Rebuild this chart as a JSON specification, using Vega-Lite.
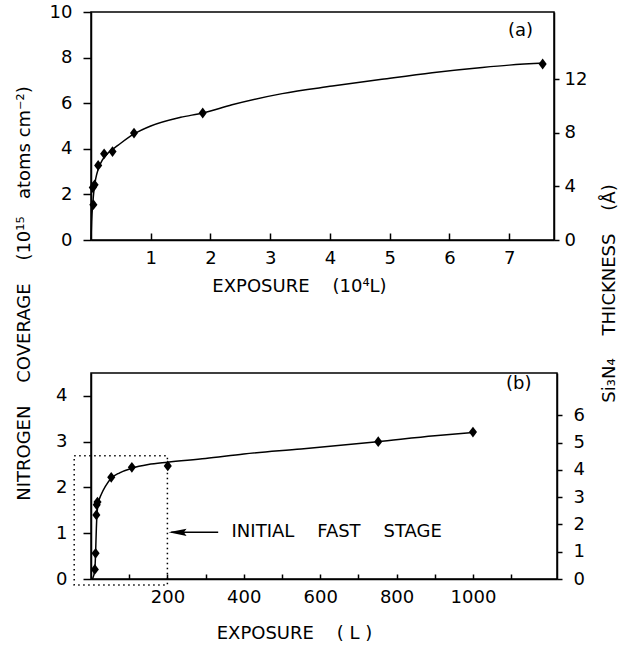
{
  "$schema": "https://vega.github.io/schema/vega-lite/v6.json",
  "padding": {"left": 14, "top": 2, "right": 5, "bottom": 5},
  "background": "white",
  "config": {
    "font": "DejaVu Sans",
    "view": {"stroke": "black", "strokeWidth": 1.5},
    "axis": {
      "grid": false, "domainColor": "black", "domainWidth": 1.5,
      "tickColor": "black", "tickWidth": 1.5, "labelColor": "black",
      "titleColor": "black", "labelFontSize": 18, "titleFontSize": 18,
      "titleFontWeight": "normal", "labelFont": "DejaVu Sans", "titleFont": "DejaVu Sans"
    }
  },
  "datasets": {
    "fitA": [
      {"exposure": 0, "coverage": 0},
      {"exposure": 0.01, "coverage": 0.8},
      {"exposure": 0.03, "coverage": 1.6},
      {"exposure": 0.05, "coverage": 2.2},
      {"exposure": 0.08, "coverage": 2.7},
      {"exposure": 0.12, "coverage": 3.1},
      {"exposure": 0.2, "coverage": 3.55},
      {"exposure": 0.3, "coverage": 3.85},
      {"exposure": 0.45, "coverage": 4.15},
      {"exposure": 0.72, "coverage": 4.65},
      {"exposure": 1.0, "coverage": 5.0},
      {"exposure": 1.5, "coverage": 5.38},
      {"exposure": 1.87, "coverage": 5.57},
      {"exposure": 2.36, "coverage": 5.93},
      {"exposure": 3.2, "coverage": 6.42},
      {"exposure": 4.04, "coverage": 6.75},
      {"exposure": 4.87, "coverage": 7.05},
      {"exposure": 5.71, "coverage": 7.34},
      {"exposure": 6.55, "coverage": 7.57},
      {"exposure": 7.0, "coverage": 7.67},
      {"exposure": 7.6, "coverage": 7.76}
    ],
    "ptsA": [
      {"exposure": 0.04, "coverage": 1.55},
      {"exposure": 0.03, "coverage": 2.3},
      {"exposure": 0.06, "coverage": 2.42},
      {"exposure": 0.12, "coverage": 3.27},
      {"exposure": 0.22, "coverage": 3.78},
      {"exposure": 0.36, "coverage": 3.88},
      {"exposure": 0.72, "coverage": 4.69},
      {"exposure": 1.87, "coverage": 5.57},
      {"exposure": 7.56, "coverage": 7.72}
    ],
    "fitB": [
      {"exposure": 4, "coverage": 0},
      {"exposure": 10, "coverage": 0.2},
      {"exposure": 12, "coverage": 0.56},
      {"exposure": 14, "coverage": 1.1},
      {"exposure": 16, "coverage": 1.45},
      {"exposure": 20, "coverage": 1.68},
      {"exposure": 27, "coverage": 1.85},
      {"exposure": 38, "coverage": 2.03},
      {"exposure": 53, "coverage": 2.2},
      {"exposure": 75, "coverage": 2.32},
      {"exposure": 107, "coverage": 2.42},
      {"exposure": 150, "coverage": 2.5},
      {"exposure": 200, "coverage": 2.55},
      {"exposure": 300, "coverage": 2.63},
      {"exposure": 400, "coverage": 2.73},
      {"exposure": 550, "coverage": 2.84},
      {"exposure": 750, "coverage": 3.0},
      {"exposure": 900, "coverage": 3.13},
      {"exposure": 1000, "coverage": 3.2}
    ],
    "ptsB": [
      {"exposure": 10, "coverage": 0.21},
      {"exposure": 12, "coverage": 0.56},
      {"exposure": 14, "coverage": 1.4},
      {"exposure": 15, "coverage": 1.62},
      {"exposure": 17, "coverage": 1.68},
      {"exposure": 53, "coverage": 2.22},
      {"exposure": 107, "coverage": 2.44},
      {"exposure": 201, "coverage": 2.47},
      {"exposure": 752, "coverage": 3.0},
      {"exposure": 1000, "coverage": 3.21}
    ]
  },
  "bounds": "flush",
  "spacing": 133,
  "vconcat": [
    {
      "width": 463,
      "height": 228,
      "resolve": {"scale": {"y": "independent"}},
      "layer": [
        {
          "encoding": {
            "x": {
              "field": "exposure", "type": "quantitative",
              "scale": {"domain": [0, 7.75], "nice": false, "zero": false},
              "axis": {
                "values": [1, 2, 3, 4, 5, 6, 7], "tickSize": -7, "labelPadding": 16,
                "title": "EXPOSURE\u00a0\u00a0\u00a0\u00a0(10⁴L)", "titleX": 208, "titleY": 46,
                "titleBaseline": "middle", "titleAlign": "center"
              }
            },
            "y": {
              "field": "coverage", "type": "quantitative",
              "scale": {"domain": [0, 10], "nice": false},
              "axis": {
                "values": [0, 2, 4, 6, 8, 10], "tickSize": 8, "labelPadding": 11,
                "title": "NITROGEN\u00a0\u00a0\u00a0\u00a0COVERAGE\u00a0\u00a0\u00a0\u00a0(10¹⁵\u00a0\u00a0\u00a0atoms cm⁻²)",
                "titleX": -67, "titleY": 281, "titleAngle": 270,
                "titleBaseline": "middle", "titleAlign": "center"
              }
            }
          },
          "layer": [
            {
              "data": {"name": "fitA"},
              "mark": {"type": "line", "color": "black", "strokeWidth": 1.5, "interpolate": "monotone"}
            },
            {
              "data": {"name": "ptsA"},
              "mark": {"type": "point", "shape": "M0,-1.2L0.9,0L0,1.2L-0.9,0Z", "filled": true, "color": "black", "size": 81, "opacity": 1}
            },
            {
              "data": {"values": [{"exposure": 7.19, "coverage": 9.17, "label": "(a)"}]},
              "mark": {"type": "text", "fontSize": 18, "color": "black", "align": "center", "baseline": "middle"},
              "encoding": {"text": {"field": "label"}}
            }
          ]
        },
        {
          "data": {"values": [{"t": 0}, {"t": 12}]},
          "mark": {"type": "point", "opacity": 0},
          "encoding": {
            "y": {
              "field": "t", "type": "quantitative",
              "scale": {"domain": [0, 17], "nice": false},
              "axis": {
                "orient": "right", "values": [0, 4, 8, 12], "tickSize": 5, "labelPadding": 5,
                "title": "Si₃N₄\u00a0\u00a0\u00a0\u00a0THICKNESS\u00a0\u00a0\u00a0\u00a0(Å)", "titleX": 55, "titleY": 281, "titleAngle": 270,
                "titleBaseline": "middle", "titleAlign": "center"
              }
            }
          }
        }
      ]
    },
    {
      "width": 466,
      "height": 206,
      "resolve": {"scale": {"y": "independent"}},
      "layer": [
        {
          "encoding": {
            "x": {
              "field": "exposure", "type": "quantitative",
              "scale": {"domain": [0, 1220], "nice": false, "zero": false},
              "axis": {
                "values": [100, 200, 300, 400, 500, 600, 700, 800, 900, 1000, 1100],
                "labelExpr": "datum.value % 200 == 0 && datum.value <= 1000 ? datum.label : ''",
                "format": "d", "tickSize": -5, "labelPadding": 14,
                "title": "EXPOSURE\u00a0\u00a0\u00a0\u00a0( L )", "titleX": 203, "titleY": 54,
                "titleBaseline": "middle", "titleAlign": "center"
              }
            },
            "y": {
              "field": "coverage", "type": "quantitative",
              "scale": {"domain": [0, 4.5], "nice": false},
              "axis": {"values": [0, 1, 2, 3, 4], "tickSize": 8, "labelPadding": 16, "title": null}
            }
          },
          "layer": [
            {
              "data": {"values": [{"exposure": -44, "exposure2": 200, "coverage": -0.13, "coverage2": 2.69}]},
              "mark": {"type": "rect", "fillOpacity": 0, "stroke": "black", "strokeWidth": 1.5, "strokeDash": [1.5, 3.5], "clip": false},
              "encoding": {"x2": {"field": "exposure2"}, "y2": {"field": "coverage2"}}
            },
            {
              "data": {"name": "fitB"},
              "mark": {"type": "line", "color": "black", "strokeWidth": 1.5, "interpolate": "monotone"}
            },
            {
              "data": {"name": "ptsB"},
              "mark": {"type": "point", "shape": "M0,-1.2L0.9,0L0,1.2L-0.9,0Z", "filled": true, "color": "black", "size": 81, "opacity": 1}
            },
            {
              "data": {"values": [{"exposure": 210, "exposure2": 333, "coverage": 1.02}]},
              "mark": {"type": "rule", "color": "black", "strokeWidth": 1.5},
              "encoding": {"x2": {"field": "exposure2"}}
            },
            {
              "data": {"values": [{"exposure": 203, "coverage": 1.02}]},
              "mark": {"type": "point", "shape": "M0,0L1,-0.2L0.85,0L1,0.2Z", "filled": true, "color": "black", "size": 1296, "opacity": 1}
            },
            {
              "data": {"values": [
                {"exposure": 1120, "coverage": 4.26, "label": "(b)", "al": "center"},
                {"exposure": 368, "coverage": 1.02, "label": "INITIAL\u00a0\u00a0\u00a0\u00a0FAST\u00a0\u00a0\u00a0\u00a0STAGE", "al": "left"}
              ]},
              "mark": {"type": "text", "fontSize": 18, "color": "black", "baseline": "middle", "align": {"expr": "datum.al"}},
              "encoding": {"text": {"field": "label"}}
            }
          ]
        },
        {
          "data": {"values": [{"t": 0}, {"t": 6}]},
          "mark": {"type": "point", "opacity": 0},
          "encoding": {
            "y": {
              "field": "t", "type": "quantitative",
              "scale": {"domain": [0, 7.55], "nice": false},
              "axis": {"orient": "right", "values": [0, 1, 2, 3, 4, 5, 6], "tickSize": 5, "labelPadding": 11, "title": null}
            }
          }
        }
      ]
    }
  ]
}
